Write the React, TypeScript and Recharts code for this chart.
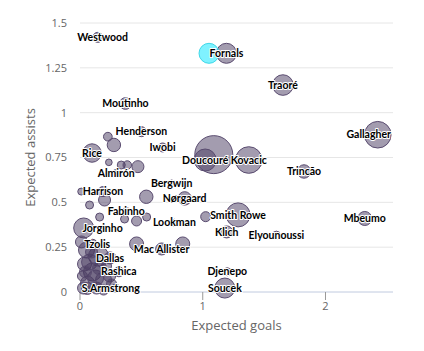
import React from "react"
import { CartesianGrid, Scatter, ScatterChart, XAxis, YAxis, ZAxis } from "recharts"

// one entry per player; "" = label hidden in the original (overlap)
const players = [
    "Westwood", "Fornals", "Traoré", "Moutinho", "Henderson", "Gallagher", "Iwobi", "Rice",
    "", "", "", "Doucouré", "Kovacic", "Trincão", "", "", "", "", "Almirón", "Bergwijn",
    "Harrison", "", "", "", "Nørgaard", "Fabinho", "", "", "", "", "", "Smith Rowe", "",
    "Mbeumo", "Lookman", "Jorginho", "Klich", "Elyounoussi", "", "Tzolis", "", "Mac Allister",
    "", "", "", "Dallas", "", "", "", "Rashica", "Djenepo", "", "", "", "", "S.Armstrong",
    "", "", "Soucek",
    "", "", "", "", "", "", "", "",
]
const expectedGoals = [
    0.145, 1.193, 1.653, 0.37, 0.5, 2.426, 0.673, 0.098,
    0.227, 0.276, 1.09, 1.02, 1.375, 1.825, 0.235, 0.336, 0.385, 0.472, 0.295, 0.747,
    0.187, 0.01, 0.2, 0.54, 0.853, 0.377, 0.078, 0.16, 0.363, 0.461, 0.543, 1.288, 1.024,
    2.32, 0.769, 0.03, 1.195, 1.6, 0.012, 0.102, 0.461, 0.665,
    0.837, 0.053, 0.151, 0.245, 0.037, 0.216, 0.102, 0.317, 1.2, 0.241, 0.02, 0.192, 0.061, 0.06,
    0.135, 0.29, 1.18,
    0.078, 0.127, 0.029, 0.192, 0.094, 0.159, 0.045, 0.257,
]
const expectedAssists = [
    1.42, 1.331, 1.154, 1.051, 0.894, 0.877, 0.806, 0.775,
    0.866, 0.82, 0.766, 0.736, 0.736, 0.672, 0.723, 0.708, 0.708, 0.699, 0.664, 0.605,
    0.56, 0.56, 0.513, 0.531, 0.522, 0.452, 0.485, 0.418, 0.407, 0.396, 0.418, 0.43, 0.42,
    0.41, 0.386, 0.357, 0.335, 0.317, 0.279, 0.266, 0.268, 0.24,
    0.268, 0.234, 0.2, 0.19, 0.156, 0.145, 0.112, 0.113, 0.113, 0.089, 0.089, 0.067, 0.05, 0.02,
    0.022, 0.022, 0.022,
    0.167, 0.078, 0.022, 0.011, 0.223, 0.134, 0.112, 0.045,
]
const bubbleSize = [
    25, 100, 106, 34, 25, 177, 20, 85,
    19, 45, 361, 121, 177, 45, 11, 16, 18, 36, 12, 12,
    25, 12, 36, 45, 45, 12, 16, 16, 16, 25, 16, 144, 25,
    49, 12, 100, 36, 16, 36, 25, 49, 36,
    49, 64, 100, 36, 49, 25, 81, 25, 16, 36, 25, 64, 49, 36,
    36, 16, 100,
    64, 64, 36, 25, 36, 49, 36, 25,
]

// hovered point (drawn cyan)
const hoverGoals = [1.051]
const hoverAssists = [1.331]
const hoverSize = [100]

const xTicks = [0, 1, 2]
const yTicks = [0, 0.25, 0.5, 0.75, 1, 1.25, 1.5]

const data = players.map((name, i) => ({
    name,
    xg: expectedGoals[i],
    xa: expectedAssists[i],
    size: bubbleSize[i],
}))
const hoverData = hoverGoals.map((xg, i) => ({ name: "", xg, xa: hoverAssists[i], size: hoverSize[i] }))

const PLOT_LEFT = 80
const PLOT_RIGHT = 393

const Bubble = (props: any) => {
    const { cx, cy, width, fill, stroke } = props
    return <circle cx={cx} cy={cy} r={width / 2} fill={fill} fillOpacity={0.5} stroke={stroke} strokeWidth={1} />
}

const PointLabel = (props: any) => {
    const { cx, cy, payload } = props
    const text = payload?.name
    if (!text) return <g />
    const w = text.length * 5.4
    let tx = cx
    if (tx - w / 2 < PLOT_LEFT + 1) tx = PLOT_LEFT + 1 + w / 2
    if (tx + w / 2 > PLOT_RIGHT) tx = PLOT_RIGHT - w / 2
    return (
        <text
            x={tx}
            y={cy}
            dy="0.35em"
            textAnchor="middle"
            fontSize={10.5}
            fontWeight={700}
            fontFamily="Lato, sans-serif"
            fill="#000"
            stroke="#fff"
            strokeWidth={2}
            strokeLinejoin="round"
            paintOrder="stroke"
        >
            {text}
        </text>
    )
}

export default function App() {
    return (
        <div style={{ position: "absolute", left: 0, top: 0, fontFamily: "'Open Sans', sans-serif" }}>
            <ScatterChart width={424} height={351} margin={{ top: 23, right: 31, bottom: 0, left: 0 }}>
                <CartesianGrid stroke="#e6e6e6" vertical={false} />
                <XAxis
                    type="number"
                    dataKey="xg"
                    domain={[0, 2.55]}
                    ticks={xTicks}
                    height={59}
                    tickSize={8}
                    tickMargin={2}
                    axisLine={{ stroke: "#ccd6eb" }}
                    tickLine={{ stroke: "#999" }}
                    tick={{ fill: "#666", fontSize: 11 }}
                    label={{ value: "Expected goals", position: "insideBottom", offset: 21, fill: "#666", fontSize: 13 }}
                />
                <YAxis
                    type="number"
                    dataKey="xa"
                    domain={[0, 1.5]}
                    ticks={yTicks}
                    width={80}
                    tickSize={6}
                    tickMargin={7}
                    axisLine={false}
                    tickLine={false}
                    tick={{ fill: "#666", fontSize: 11 }}
                    label={{
                        value: "Expected assists",
                        angle: -90,
                        position: "insideLeft",
                        offset: 30,
                        fill: "#666",
                        fontSize: 13,
                        style: { textAnchor: "middle" },
                    }}
                />
                <ZAxis type="number" dataKey="size" domain={[0, 400]} range={[0, 1256.6]} />
                <Scatter data={data} fill="#483a5f" stroke="#5a4c70" shape={Bubble} isAnimationActive={false} />
                <Scatter data={hoverData} fill="#00e5ff" stroke="#3fd8e8" shape={Bubble} isAnimationActive={false} />
                <Scatter data={data} shape={PointLabel} isAnimationActive={false} />
            </ScatterChart>
        </div>
    )
}
